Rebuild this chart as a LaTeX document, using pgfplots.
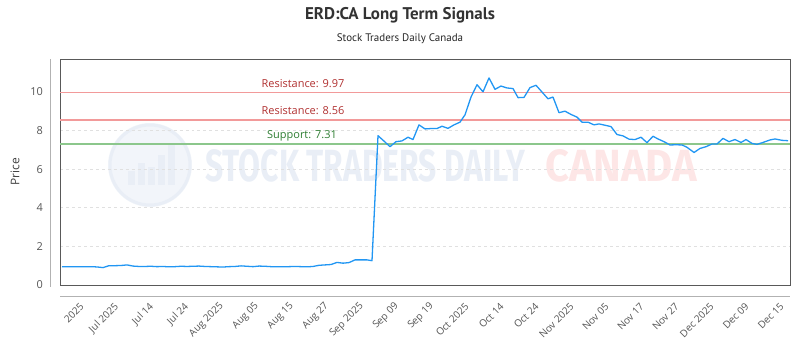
\documentclass[border=0pt]{standalone}
\usepackage{fontspec}
\setmainfont{Open Sans}
\newfontfamily\titlefont{PT Sans}
\newfontfamily\wmfont{Fira Sans}
\usepackage{pgfplots}
\pgfplotsset{compat=1.18}
\definecolor{lineblue}{HTML}{2196F3}
\definecolor{resline}{HTML}{F29A9A}
\definecolor{supline}{HTML}{8CC78C}
\definecolor{restext}{HTML}{B03030}
\definecolor{suptext}{HTML}{2E7D32}
\definecolor{ticktext}{HTML}{555555}
\definecolor{wmblue}{HTML}{E9EEF6}
\definecolor{wmred}{HTML}{FDE6E6}
\begin{document}
\begin{tikzpicture}[x=1bp,y=1bp]
\path[use as bounding box] (0,0) rectangle (800,350);
% title
\node[font=\titlefont\bfseries\fontsize{17}{19}\selectfont, text=black!80] at (400,335) {ERD:CA Long Term Signals};
\node[font=\titlefont\fontsize{11}{13}\selectfont, text=black!85] at (400,311) {Stock Traders Daily Canada};
% watermark
\fill[wmblue!60] (150,185) circle (42);
\draw[wmblue, line width=3bp] (150,185) circle (40);
\foreach \bx/\bh in {128/14,138/22,148/18,158/30,168/40}{\fill[wmblue] (\bx,165) rectangle ++(7,\bh);}
\node[anchor=west, text=wmblue, inner sep=0pt] at (205,184) {\resizebox{320bp}{32bp}{\wmfont\bfseries STOCK TRADERS DAILY}};
\node[anchor=west, text=wmred, inner sep=0pt] at (545,184) {\resizebox{152bp}{32bp}{\wmfont\bfseries CANADA}};
% offset axis lines
\draw[black!30, line width=0.8bp] (50,291) -- (50,63);
\draw[black!30, line width=0.8bp] (60,54) -- (790,54);
\begin{axis}[
  at={(60bp,65bp)}, anchor=south west,
  scale only axis, width=730bp, height=226bp,
  xmin=0, xmax=730, ymin=0, ymax=11.7,
  axis line style={black!65, line width=0.8bp},
  ytick={0,2,4,6,8,10},
  xtick={22,57,92,127,162,197,232,267,302,337,372,407,442,477,512,547,582,617,652,687,722},
  xticklabels={2025,Jul 2025,Jul 14,Jul 24,Aug 2025,Aug 05,Aug 15,Aug 27,Sep 2025,Sep 09,Sep 19,Oct 2025,Oct 14,Oct 24,Nov 2025,Nov 05,Nov 17,Nov 27,Dec 2025,Dec 09,Dec 15},
  major tick length=0pt,
  /pgf/number format/assume math mode=true,
  ymajorgrids,
  grid style={black!12, dashed, line width=0.5bp},
  yticklabel style={font=\fontsize{11}{13}\selectfont, text=ticktext, anchor=east, inner sep=0pt, xshift=-17bp},
  xticklabel style={font=\fontsize{10}{12}\selectfont, text=ticktext, yshift=-20bp, rotate=45, anchor=east, inner sep=0pt},
  ylabel={Price},
  ylabel style={font=\fontsize{12}{14}\selectfont, text=black!75, at={(axis description cs:-0.0616,0.5)}, anchor=center},
  clip=false,
]
\addplot[resline, line width=1.8bp, forget plot] coordinates {(0,9.97) (730,9.97)};
\addplot[resline, line width=1.8bp, forget plot] coordinates {(0,8.56) (730,8.56)};
\addplot[supline, line width=1.8bp, forget plot] coordinates {(0,7.31) (730,7.31)};
\node[font=\fontsize{11}{13}\selectfont, text=restext, anchor=south, inner sep=2bp, yshift=2.5bp] at (axis cs:243,9.97) {Resistance: 9.97};
\node[font=\fontsize{11}{13}\selectfont, text=restext, anchor=south, inner sep=2bp, yshift=2.5bp] at (axis cs:243,8.56) {Resistance: 8.56};
\node[font=\fontsize{11}{13}\selectfont, text=suptext, anchor=south, inner sep=2bp] at (axis cs:242,7.31) {Support: 7.31};
\addplot[lineblue, line width=1.3bp, line join=round] coordinates {
(2,0.95)(8,0.94)(14,0.94)(20,0.95)(26,0.94)(32,0.95)(38,0.93)(43,0.90)(49,1.00)(55,1.00)(61,1.01)(67,1.04)(73,0.98)(79,0.96)(85,0.96)(91,0.97)(97,0.95)(103,0.96)(109,0.94)(115,0.95)(121,0.97)(127,0.96)(133,0.97)(139,0.98)(145,0.96)(151,0.95)(157,0.94)(163,0.93)(169,0.95)(175,0.96)(181,0.99)(187,0.97)(193,0.95)(199,0.98)(205,0.97)(211,0.95)(217,0.94)(223,0.94)(229,0.95)(235,0.96)(241,0.95)(247,0.94)(253,0.96)(259,1.02)(265,1.04)(271,1.06)(277,1.17)(283,1.13)(289,1.16)(295,1.30)(301,1.30)(307,1.30)(312,1.26)(318,7.73)(324,7.45)(330,7.16)(336,7.42)(342,7.46)(348,7.65)(353,7.53)(359,8.29)(365,8.08)(371,8.10)(377,8.10)(382,8.22)(388,8.11)(394,8.29)(400,8.43)(405,8.81)(411,9.73)(417,10.37)(423,10.00)(429,10.72)(435,10.13)(441,10.30)(447,10.20)(453,10.17)(458,9.70)(464,9.71)(470,10.22)(476,10.34)(482,9.99)(488,9.64)(493,9.73)(499,8.92)(505,9.00)(511,8.83)(517,8.69)(522,8.43)(528,8.43)(534,8.29)(539,8.34)(546,8.26)(551,8.20)(557,7.79)(563,7.72)(569,7.55)(575,7.53)(581,7.65)(587,7.37)(593,7.70)(598,7.56)(604,7.42)(610,7.25)(616,7.26)(622,7.25)(627,7.13)(634,6.86)(640,7.07)(646,7.16)(652,7.30)(657,7.30)(663,7.59)(669,7.42)(675,7.53)(681,7.38)(686,7.53)(692,7.33)(697,7.28)(703,7.38)(710,7.51)(715,7.56)(722,7.49)(728,7.47)};
\end{axis}
\end{tikzpicture}
\end{document}
